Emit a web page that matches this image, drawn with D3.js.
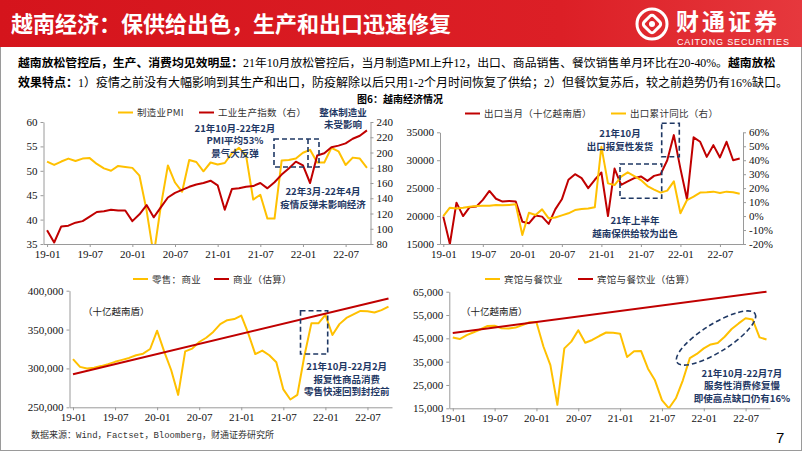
<!DOCTYPE html>
<html><head><meta charset="utf-8">
<script src="https://cdn.jsdelivr.net/npm/d3@7"></script>
<style>
body{margin:0;background:#fff;}
svg{display:block;}
</style>
</head><body>
<svg id="c" width="802" height="451"></svg>
<script>
// ---------------- DATA ----------------
const months = ["19-01","19-02","19-03","19-04","19-05","19-06","19-07","19-08","19-09","19-10","19-11","19-12",
"20-01","20-02","20-03","20-04","20-05","20-06","20-07","20-08","20-09","20-10","20-11","20-12",
"21-01","21-02","21-03","21-04","21-05","21-06","21-07","21-08","21-09","21-10","21-11","21-12",
"22-01","22-02","22-03","22-04","22-05","22-06","22-07","22-08","22-09","22-10"];
const xTickLabels = ["19-01","19-07","20-01","20-07","21-01","21-07","22-01","22-07"];

// Chart 1: manufacturing PMI (left) & industrial production index (right)
const pmi = [51.9,51.2,51.9,52.5,52.0,52.5,52.6,51.4,50.5,50.0,51.0,50.8,
50.6,49.0,41.9,32.7,42.7,51.1,47.6,45.7,52.2,51.8,49.9,51.7,
51.3,51.6,53.6,54.7,53.1,44.1,45.1,40.2,40.2,52.1,52.2,52.5,
53.7,54.3,51.7,51.7,54.7,54.0,51.2,52.7,52.5,50.6];
const iip = [98,82,103,104,108,110,116,122,123,125,124,124,
110,119,131,115,128,141,147,151,155,158,160,163,
157,125,152,153,155,156,160,153,161,171,179,188,
183,160,196,199,207,209,212,218,222,229];
const pmiTicks = [35,40,45,50,55,60];
const iipTicks = [80,100,120,140,160,180,200,220,240];

// Chart 2: monthly exports (bn VND, left) & cumulative YoY (right, %)
const exportMonthly = [19900,15000,22400,20000,21600,21700,22900,24500,23100,22600,22700,22600,
19000,18700,20100,19900,18600,21200,23000,26500,27500,26800,25000,26500,
27800,20000,28500,25600,26200,26800,27100,26300,27200,27500,30000,34500,
28500,23000,34100,33300,30600,32700,30500,33300,30000,30300];
const exportCumYoY = [0,6,5.5,6,6.7,7.2,7.4,7.4,8,7.7,8,8.4,
-13.6,2.4,0.8,4.8,-1.6,-1,0.5,2,4.3,5,5.5,6.3,
49.7,23.4,22.2,28.2,31.3,28.7,25.8,21.5,19,16.8,18.2,24.9,
2,11.5,13.9,16.8,17,17.5,16.5,17.5,17,16];
const exportTicks = [15000,20000,25000,30000,35000];
const yoyTicks = [-20,-10,0,10,20,30,40,50,60];

// Chart 3: retail (commerce) & trend estimate
const retail = [312000,302000,300000,301000,303000,305500,308500,311000,313500,317000,319000,325000,
348500,322000,298000,266000,322000,325500,334000,339500,347000,357000,362000,363500,
368000,345000,318500,323000,317000,308000,273000,260000,266000,316000,358000,358000,
369000,343000,357000,365000,369500,374000,373500,372000,375000,379500];
const retailTrendMonths = ["19-01","22-10"];
const retailTrend = [292500,390000];
const retailTicks = [250000,300000,350000,400000];

// Chart 4: hotels & restaurants & trend estimate
const hotel = [45400,44700,46400,47600,48900,50300,50400,49300,49200,49600,50700,51900,
51900,41500,33500,16500,40700,43600,48500,43100,44300,46000,47500,47400,
47000,37000,39500,39600,32000,27000,18500,15000,19300,27000,36500,38300,
40700,42400,43000,45700,49000,51400,53600,53100,45400,44500];
const hotelTrendMonths = ["19-01","22-10"];
const hotelTrend = [47300,65000];
const hotelTicks = [15000,25000,35000,45000,55000,65000];

// ---------------- DRAW ----------------
const YEL="#FFC000", RED="#C00000", NAVY="#1F3864", AX="#9a9a9a";
const CJK = "'Noto Sans CJK SC','Noto Sans CJK JP',sans-serif";
const SERIF = "'Liberation Serif','Times New Roman','Noto Sans CJK SC',serif";
const svg = d3.select("#c");
const defs = svg.append("defs");

// slide frame
svg.append("rect").attr("x",0.5).attr("y",0.5).attr("width",801).attr("height",450)
  .attr("fill","#fff").attr("stroke","#9a9a9a");

// banner
const grad = defs.append("linearGradient").attr("id","bn").attr("x1","0").attr("x2","1").attr("y1","0").attr("y2","0");
grad.append("stop").attr("offset","0").attr("stop-color","#d5141c");
grad.append("stop").attr("offset","0.7").attr("stop-color","#dc1f26");
grad.append("stop").attr("offset","1").attr("stop-color","#e6383d");
svg.append("rect").attr("x",0).attr("y",0).attr("width",802).attr("height",47).attr("fill","url(#bn)");
svg.append("text").attr("x",11).attr("y",32).attr("fill","#fff")
  .style("font-family",CJK).style("font-weight","700").style("font-size","22px")
  .text("越南经济：保供给出色，生产和出口迅速修复");
// logo
const lg = svg.append("g").attr("transform","translate(652,24)");
lg.append("circle").attr("r",15).attr("fill","none").attr("stroke","#fff").attr("stroke-width",3);
lg.append("rect").attr("x",-7).attr("y",-7).attr("width",14).attr("height",14).attr("rx",3)
  .attr("transform","rotate(45)").attr("fill","none").attr("stroke","#fff").attr("stroke-width",3);
lg.append("circle").attr("r",3).attr("fill","#fff");
svg.append("text").attr("x",676).attr("y",30).attr("fill","#fff")
  .style("font-family",CJK).style("font-weight","700").style("font-size","23px").style("letter-spacing","3px")
  .text("财通证券");
svg.append("text").attr("x",677).attr("y",44.5).attr("fill","#fff").attr("textLength",112)
  .style("font-family","'Liberation Sans',Arial,sans-serif").style("font-size","9px")
  .text("CAITONG SECURITIES");

// paragraph
function para(y, fs, parts){
  const t = svg.append("text").attr("x",18).attr("y",y).style("font-size",fs+"px").attr("fill","#000");
  parts.forEach(p=>{
    t.append("tspan").text(p[0])
      .style("font-family", p[1] ? CJK : SERIF)
      .style("font-weight", p[1] ? "700" : "400");
  });
}
para(66.5, 11.85, [["越南放松管控后，生产、消费均见效明显：",1],["21年10月放松管控后，当月制造PMI上升12，出口、商品销售、餐饮销售单月环比在20-40%。",0],["越南放松",1]]);
para(86.5, 12, [["效果特点：",1],["1）疫情之前没有大幅影响到其生产和出口，防疫解除以后只用1-2个月时间恢复了供给；2）但餐饮复苏后，较之前趋势仍有16%缺口。",0]]);
svg.append("text").attr("x",400).attr("y",102.5).attr("text-anchor","middle")
  .style("font-family",CJK).style("font-weight","700").style("font-size","10px").text("图6：越南经济情况");

// chart helper
let clipN = 0;
function chart(o){
  const g = svg.append("g");
  const x = d3.scalePoint().domain(months).range(o.xr).padding(0.5);
  const yl = d3.scaleLinear().domain(o.ld).range([o.yb,o.yt]);
  const yr = o.rd ? d3.scaleLinear().domain(o.rd).range([o.yb,o.yt]) : null;
  const id = "clip"+(clipN++);
  defs.append("clipPath").attr("id",id).append("rect")
    .attr("x",o.xr[0]).attr("y",o.yt-3).attr("width",o.xr[1]-o.xr[0]+3).attr("height",o.yb-o.yt+3);

  const styleAxis = sel => {
    sel.select(".domain").attr("stroke",AX);
    sel.selectAll(".tick line").attr("stroke",AX);
    sel.selectAll("text").attr("fill","#111").style("font-family",SERIF).style("font-size","11px");
  };
  g.append("g").attr("transform",`translate(${o.xr[0]},0)`)
    .call(d3.axisLeft(yl).tickValues(o.lt).tickFormat(o.lf).tickSize(3).tickSizeOuter(0).tickPadding(3))
    .call(styleAxis);
  if(yr){
    g.append("g").attr("transform",`translate(${o.xr[1]},0)`)
      .call(d3.axisRight(yr).tickValues(o.rt).tickFormat(o.rf).tickSize(3).tickSizeOuter(0).tickPadding(3))
      .call(styleAxis);
  }
  g.append("g").attr("transform",`translate(0,${o.yb})`)
    .call(d3.axisBottom(x).tickValues(xTickLabels).tickSize(3).tickSizeOuter(0).tickPadding(3))
    .call(styleAxis);

  const pg = g.append("g").attr("clip-path",`url(#${id})`);
  o.series.forEach(s=>{
    const sc = s.right ? yr : yl;
    const ms = s.months || months;
    const data = s.values.map((v,i)=>[ms[i],v]);
    const line = d3.line().x(d=>x(d[0])).y(d=>sc(d[1]));
    pg.append("path").datum(data).attr("d",line).attr("fill","none")
      .attr("stroke",s.color).attr("stroke-width",s.w||2).attr("stroke-linejoin","round");
  });
  // legend
  o.legend.forEach(l=>{
    g.append("line").attr("x1",l.x).attr("x2",l.x+15).attr("y1",l.y).attr("y2",l.y)
      .attr("stroke",l.color).attr("stroke-width",2);
    g.append("text").attr("x",l.x+19).attr("y",l.y+3.5).attr("fill","#333")
      .style("font-family",CJK).style("font-size","9.5px").style("letter-spacing","0.3px").text(l.text);
  });
  return {x,yl,yr,g};
}

// multi-line annotation as one text block
function note(lines, cx, y0, dy, fs){
  const t = svg.append("text").attr("x",cx).attr("y",y0).attr("text-anchor","middle")
    .attr("fill",NAVY).style("font-family",CJK).style("font-weight","700").style("font-size",(fs||10)+"px");
  lines.forEach((s,i)=>{
    t.append("tspan").attr("x",cx).attr("dy", i===0 ? 0 : dy).text(s);
  });
}
function dashRect(x0,y0,x1,y1){
  svg.append("rect").attr("x",x0).attr("y",y0).attr("width",x1-x0).attr("height",y1-y0)
    .attr("fill","none").attr("stroke",NAVY).attr("stroke-width",1.6).attr("stroke-dasharray","5,3");
}
function dashLine(x0,y0,x1,y1){
  svg.append("line").attr("x1",x0).attr("y1",y0).attr("x2",x1).attr("y2",y1)
    .attr("stroke",NAVY).attr("stroke-width",1.6).attr("stroke-dasharray","5,3");
}

// Chart 1
chart({xr:[43.5,370.5], yb:244, yt:122, ld:[35,60], lt:pmiTicks, lf:d3.format("d"),
  rd:[80,240], rt:iipTicks, rf:d3.format("d"),
  series:[{values:pmi,color:YEL},{values:iip,color:RED,right:true}],
  legend:[{x:118,y:112.5,color:YEL,text:"制造业PMI"},{x:199,y:112.5,color:RED,text:"工业生产指数（右）"}]});
note(["整体制造业","未受影响"],343,115.5,12.5,9.5);
note(["21年10月-22年2月","PMI平均53%","景气大反弹"],235,131.5,12.5,9.5);
dashRect(274,139,319,167);
dashLine(308,139,308,167);
note(["22年3月-22年4月","疫情反弹未影响经济"],323,194.5,13.3,9.5);

// Chart 2
chart({xr:[440,743], yb:244, yt:132.3, ld:[15000,35000], lt:exportTicks, lf:d3.format("d"),
  rd:[-20,60], rt:yoyTicks, rf:d=>d+"%",
  series:[{values:exportMonthly,color:RED},{values:exportCumYoY,color:YEL,right:true}],
  legend:[{x:465,y:113.5,color:RED,text:"出口当月（十亿越南盾）"},{x:611,y:113.5,color:YEL,text:"出口累计同比（右）"}]});
note(["21年10月","出口报复性发货"],620,137,13,9.5);
dashRect(620,164,661.7,198.3);
dashRect(661.7,123.3,679.3,156.7);
note(["21年上半年","越南保供给较为出色"],635,224,12.7,9.5);

// Chart 3
chart({xr:[69.5,392], yb:407.3, yt:290.7, ld:[250000,400000], lt:retailTicks, lf:d3.format(","),
  series:[{values:retail,color:YEL},{values:retailTrend,months:retailTrendMonths,color:RED}],
  legend:[{x:133,y:279,color:YEL,text:"零售：商业"},{x:214,y:279,color:RED,text:"商业（估算）"}]});
svg.append("text").attr("x",83).attr("y",314.5).attr("fill","#222")
  .style("font-family",CJK).style("font-size","9.5px").text("（十亿越南盾）");
dashRect(300.5,310.7,327.7,354);
note(["21年10月-22月2月","报复性商品消费","零售快速回到封控前"],346.7,370.3,12.4,9.5);

// Chart 4
chart({xr:[449.3,770], yb:408.3, yt:291.7, ld:[15000,65000], lt:hotelTicks, lf:d3.format(","),
  series:[{values:hotel,color:YEL},{values:hotelTrend,months:hotelTrendMonths,color:RED}],
  legend:[{x:485,y:279,color:YEL,text:"宾馆与餐饮业"},{x:578,y:279,color:RED,text:"宾馆与餐饮业（估算）"}]});
svg.append("text").attr("x",461).attr("y",314.5).attr("fill","#222")
  .style("font-family",CJK).style("font-size","9.5px").text("（十亿越南盾）");
svg.append("ellipse").attr("cx",716).attr("cy",338).attr("rx",46).attr("ry",14)
  .attr("transform","rotate(-32,716,338)").attr("fill","none")
  .attr("stroke",NAVY).attr("stroke-width",1.6).attr("stroke-dasharray","5,3");
note(["21年10月-22月7月","服务性消费修复慢","即使高点缺口仍有16%"],742,377,12.4,9.5);

// source & page number
svg.append("text").attr("x",31).attr("y",437.5).attr("fill","#333")
  .style("font-family","'Liberation Mono','Noto Sans CJK SC',monospace").style("font-size","9px")
  .text("数据来源：Wind，Factset，Bloomberg，财通证券研究所");
svg.append("text").attr("x",776).attr("y",443).attr("fill","#000")
  .style("font-family","'Liberation Sans',Arial,sans-serif").style("font-size","15px").text("7");
</script>
</body></html>
